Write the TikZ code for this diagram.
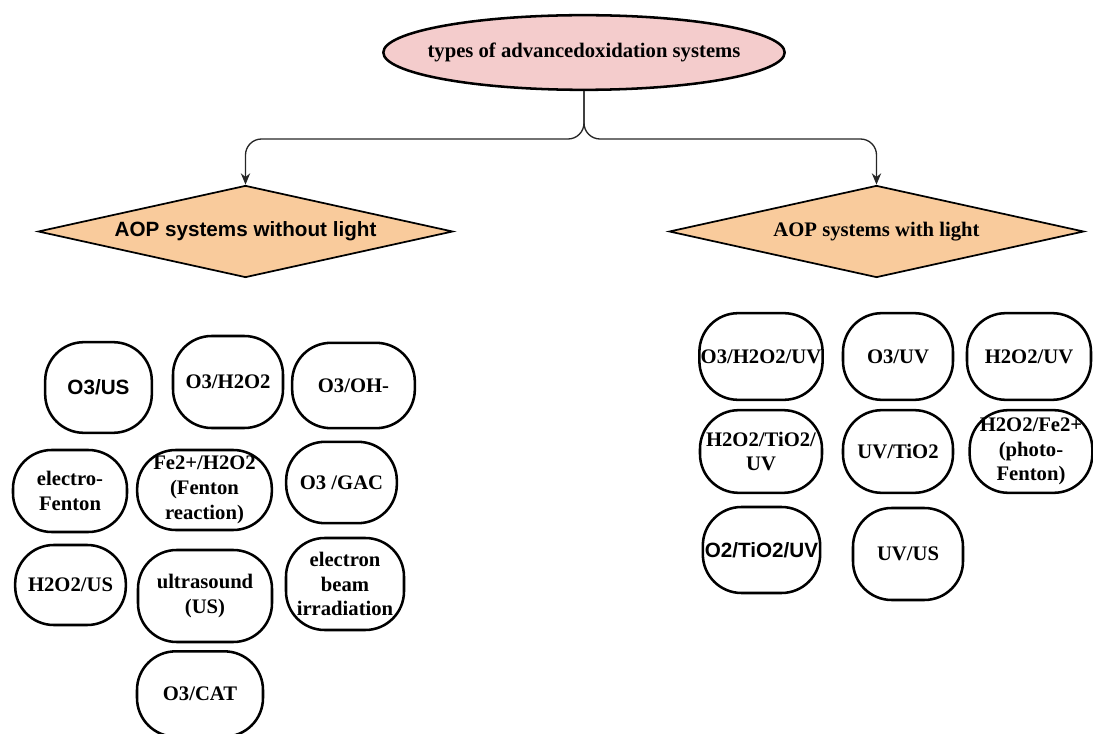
\documentclass[tikz,border=0pt]{standalone}
\usepackage{fontspec}
\setmainfont{Liberation Serif}
\setsansfont{Liberation Sans}
\usetikzlibrary{shapes.geometric,arrows.meta}

\definecolor{pembe}{RGB}{244,204,204}
\definecolor{turuncu}{RGB}{249,203,156}
\newcommand{\yazi}{\fontsize{15.5}{18.5}\selectfont\bfseries}

\tikzset{
  kutu/.style={draw, line width=1.9pt, rounded corners=29pt, align=center, inner sep=1pt, font=\yazi},
  kutusans/.style={kutu, font=\yazi\sffamily},
  karo/.style={diamond, draw, line width=1.3pt, fill=turuncu, inner sep=2pt, aspect=4.5, minimum width=311pt, minimum height=69pt},
  bag/.style={draw=black!85, line width=1pt, rounded corners=12pt, -{Stealth[length=8.5pt,width=7pt]}}
}

\begin{document}
\begin{tikzpicture}[x=0.75pt,y=-0.75pt]
\useasboundingbox (0,0) rectangle (1093,734);

% baslik
\node[ellipse, draw, line width=1.9pt, fill=pembe, minimum width=301pt, minimum height=56pt, inner sep=0pt,
      label={[font=\yazi]center:types of advancedoxidation systems}] (baslik) at (584,52.5) {};

\node[karo, font=\yazi\sffamily] (isiksiz) at (245.5,231.5) {AOP systems without light};
\node[karo, font=\yazi] (isikli) at (876.5,231.5) {AOP systems with light};

\coordinate (ayrim) at (584,139);
\draw[bag] (baslik.south) |- (isiksiz.north |- ayrim) -- (isiksiz.north);
\draw[bag] (baslik.south) |- (isikli.north |- ayrim) -- (isikli.north);

% isiksiz sistemler
\node[kutusans, minimum width=80pt, minimum height=68pt] (o3us) at (98.5,387.5) {O3/US};
\node[kutu, minimum width=82.5pt, minimum height=69pt] (o3h2o2) at (228,382) {O3/H2O2};
\node[kutu, minimum width=92pt, minimum height=64pt] (o3oh) at (353.5,385.5) {O3/OH-};
\node[kutu, minimum width=85.5pt, minimum height=61.5pt] (elfenton) at (70,491) {electro-\\Fenton};
\node[kutu, minimum width=101pt, minimum height=60pt] (fenton) at (204.5,490) {Fe2+/H2O2\\(Fenton\\reaction)};
\node[kutu, minimum width=83pt, minimum height=61pt] (o3gac) at (341.5,482.5) {O3 /GAC};
\node[kutu, minimum width=83pt, minimum height=60pt] (h2o2us) at (70.5,585) {H2O2/US};
\node[kutu, minimum width=100.5pt, minimum height=69pt] (ultra) at (205,596) {ultrasound\\(US)};
\node[kutu, minimum width=88.5pt, minimum height=69pt] (ebeam) at (345,584) {electron\\beam\\irradiation};
\node[kutu, minimum width=94.5pt, minimum height=64pt] (o3cat) at (200,694) {O3/CAT};

% isikli sistemler
\node[kutu, minimum width=91.5pt, minimum height=65pt] (o3h2o2uv) at (761,356.5) {O3/H2O2/UV};
\node[kutu, minimum width=82.5pt, minimum height=65pt] (o3uv) at (898,356.5) {O3/UV};
\node[kutu, minimum width=93pt, minimum height=65pt] (h2o2uv) at (1029,356.5) {H2O2/UV};
\node[kutu, minimum width=91.5pt, minimum height=62pt] (h2o2tio2) at (761,451.5) {H2O2/TiO2/\\UV};
\node[kutu, minimum width=82.5pt, minimum height=62pt] (uvtio2) at (898,451.5) {UV/TiO2};
\node[kutu, minimum width=92pt, minimum height=62pt] (photo) at (1031,451.5) {H2O2/Fe2+\\(photo-\\Fenton)};
\node[kutusans, minimum width=88pt, minimum height=64.5pt] (o2tio2) at (761.5,550) {O2/TiO2/UV};
\node[kutu, minimum width=82.5pt, minimum height=69pt] (uvus) at (908,554) {UV/US};

\end{tikzpicture}
\end{document}
